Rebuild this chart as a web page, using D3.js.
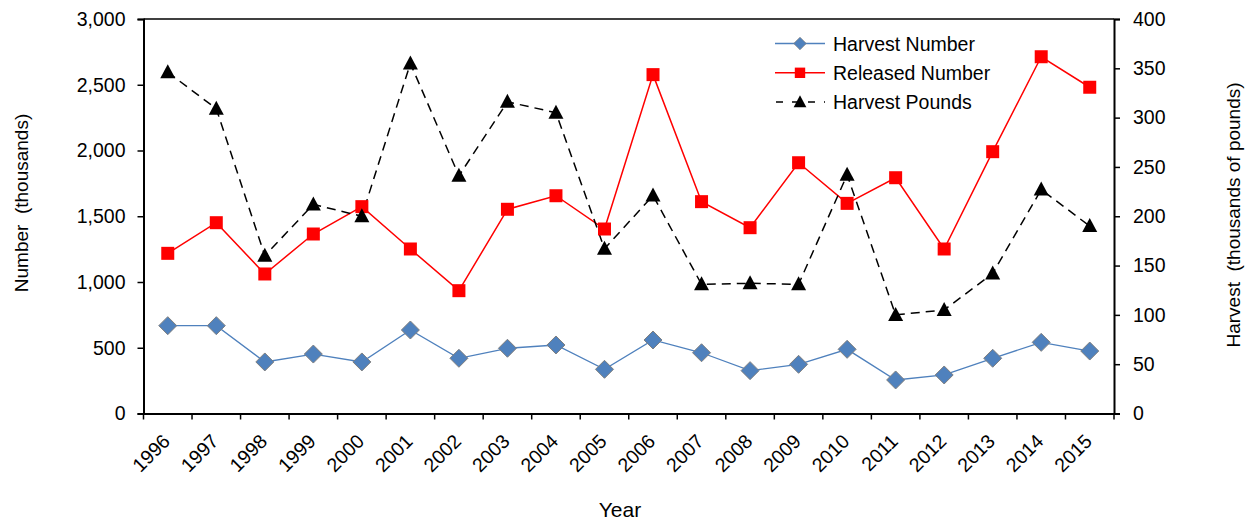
<!DOCTYPE html>
<html><head><meta charset="utf-8">
<script src="https://cdn.jsdelivr.net/npm/d3@7"></script>
<style>body{margin:0;background:#fff;} text{font-family:"Liberation Sans",Arial,sans-serif;fill:#000;white-space:pre;}</style>
</head><body>
<svg id="c" width="1251" height="523"></svg>
<script>
const years = ["1996","1997","1998","1999","2000","2001","2002","2003","2004","2005","2006","2007","2008","2009","2010","2011","2012","2013","2014","2015"];
const harvestNumber = [668,668,392,452,392,635,420,496,521,336,559,462,326,374,488,255,293,420,541,475];
const releasedNumber = [1218,1451,1061,1365,1573,1251,934,1553,1656,1403,2577,1611,1413,1907,1598,1793,1251,1991,2713,2481];
const harvestPounds = [346,309,160,212,200,355,241,316,305,167,221,131,132,131,242,100,105,142,227,190];
const leftTicks = [0,500,1000,1500,2000,2500,3000];
const rightTicks = [0,50,100,150,200,250,300,350,400];

const svg = d3.select("#c");
const L = 143.5, R = 1114, T = 19, B = 413.5;
const x = d3.scaleBand().domain(years).range([L, R]);
const yL = d3.scaleLinear().domain([0,3000]).range([B, T]);
const yR = d3.scaleLinear().domain([0,400]).range([B, T]);
const cx = d => x(d) + x.bandwidth()/2;
const FS = "19.5px";

// top frame line
svg.append("line").attr("x1",L).attr("x2",R).attr("y1",T).attr("y2",T).attr("stroke","#000").attr("stroke-width",1.5);

const fmt = d3.format(",");
const gl = svg.append("g").attr("transform",`translate(${L},0)`)
  .call(d3.axisLeft(yL).tickValues(leftTicks).tickFormat(fmt).tickSize(6).tickPadding(12));
const gr = svg.append("g").attr("transform",`translate(${R},0)`)
  .call(d3.axisRight(yR).tickValues(rightTicks).tickSize(6).tickPadding(13));
const gb = svg.append("g").attr("transform",`translate(0,${B})`)
  .call(d3.axisBottom(x).tickSize(0).tickFormat(d=>d));
[gl,gr,gb].forEach(g=>{
  g.select(".domain").attr("stroke","#000").attr("stroke-width",2);
  g.selectAll(".tick line").attr("stroke","#000").attr("stroke-width",1.5);
  g.selectAll("text").style("font-size",FS).attr("fill","#000").style("font-family","Liberation Sans, Arial, sans-serif");
});
// x ticks at band boundaries
gb.selectAll(".xb").data(years.concat(["end"])).enter().append("line")
  .attr("x1",(d,i)=>L + i*x.bandwidth()).attr("x2",(d,i)=>L + i*x.bandwidth())
  .attr("y1",0).attr("y2",6).attr("stroke","#000").attr("stroke-width",1.5);
gb.selectAll(".tick text").attr("text-anchor","end").attr("dy",null).attr("y",0)
  .attr("transform","translate(3.5,29) rotate(-45)");

// lines
const lineH = d3.line().x((d,i)=>cx(years[i])).y(d=>yL(d));
const lineP = d3.line().x((d,i)=>cx(years[i])).y(d=>yR(d));
svg.append("path").datum(harvestNumber).attr("d",lineH).attr("fill","none").attr("stroke","#4F81BD").attr("stroke-width",1.3);
svg.append("path").datum(releasedNumber).attr("d",lineH).attr("fill","none").attr("stroke","#FF0000").attr("stroke-width",1.5);
svg.append("path").datum(harvestPounds).attr("d",lineP).attr("fill","none").attr("stroke","#000").attr("stroke-width",1.5).attr("stroke-dasharray","9,6");

const diamond = "M0,-9L9,0L0,9L-9,0Z";
const square = "M-6.5,-6.5H6.5V6.5H-6.5Z";
const tri = "M0,-8L7.5,6L-7.5,6Z";
svg.selectAll(".dm").data(harvestNumber).enter().append("path").attr("d",diamond)
  .attr("transform",(d,i)=>`translate(${cx(years[i])},${yL(d)})`).attr("fill","#4F81BD").attr("stroke","#7F7F7F").attr("stroke-width",1);
svg.selectAll(".sq").data(releasedNumber).enter().append("path").attr("d",square)
  .attr("transform",(d,i)=>`translate(${cx(years[i])},${yL(d)})`).attr("fill","#FF0000");
svg.selectAll(".tr").data(harvestPounds).enter().append("path").attr("d",tri)
  .attr("transform",(d,i)=>`translate(${cx(years[i])},${yR(d)})`).attr("fill","#000");

// axis titles
svg.append("text").attr("transform","translate(28,203) rotate(-90)").attr("text-anchor","middle").style("font-size","19px").text("Number  (thousands)");
svg.append("text").attr("transform","translate(1240,215) rotate(-90)").attr("text-anchor","middle").style("font-size","19px").text("Harvest  (thousands of pounds)");
svg.append("text").attr("x",620).attr("y",517).attr("text-anchor","middle").style("font-size","21px").text("Year");

// legend
const leg = [
  {name:"Harvest Number", color:"#4F81BD", dash:null, m:diamond, stroke:"#7F7F7F", sc:0.7},
  {name:"Released Number", color:"#FF0000", dash:null, m:square, stroke:"none", sc:0.8},
  {name:"Harvest Pounds", color:"#000", dash:"8,6", m:tri, stroke:"none", sc:0.85}
];
const lg = svg.append("g");
leg.forEach((s,i)=>{
  const yy = 43.5 + i*29.3;
  lg.append("line").attr("x1",775).attr("x2",825).attr("y1",yy).attr("y2",yy).attr("stroke",s.color).attr("stroke-width",1.5).attr("stroke-dasharray",s.dash ? "7,9" : null).attr("stroke-dashoffset",s.dash? -1:0);
  lg.append("path").attr("d",s.m).attr("transform",`translate(800,${yy}) scale(${s.sc})`).attr("fill",s.color).attr("stroke",s.stroke);
  lg.append("text").attr("x",833).attr("y",yy+7).style("font-size",FS).text(s.name);
});
</script>
</body></html>
